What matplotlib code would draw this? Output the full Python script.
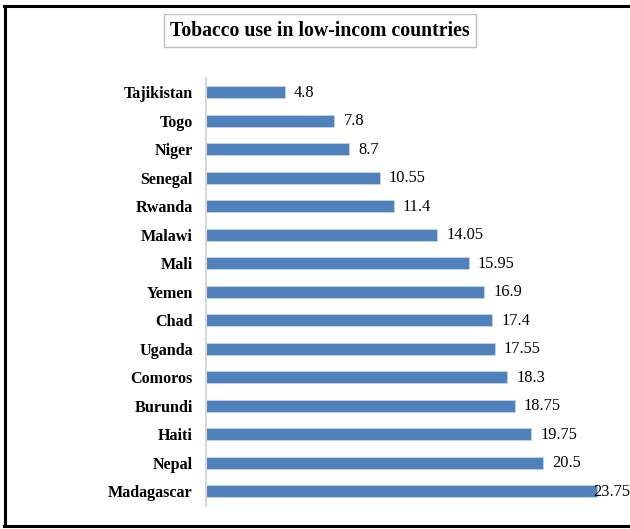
import matplotlib.pyplot as plt
from matplotlib.lines import Line2D

countries = ["Tajikistan", "Togo", "Niger", "Senegal", "Rwanda", "Malawi", "Mali",
             "Yemen", "Chad", "Uganda", "Comoros", "Burundi", "Haiti", "Nepal",
             "Madagascar"]
values = [4.8, 7.8, 8.7, 10.55, 11.4, 14.05, 15.95, 16.9, 17.4, 17.55, 18.3,
          18.75, 19.75, 20.5, 23.75]
value_labels = ["4.8", "7.8", "8.7", "10.55", "11.4", "14.05", "15.95", "16.9",
                "17.4", "17.55", "18.3", "18.75", "19.75", "20.5", "23.75"]

plt.rcParams["font.family"] = ["Liberation Serif", "DejaVu Serif"]

W, H = 630, 529
fig = plt.figure(figsize=(W / 100, H / 100), dpi=100)
ax = fig.add_axes([206 / W, 1 - 505.5 / H, (601 - 206) / W, (505.5 - 78) / H])

y = list(range(len(countries)))
ax.barh(y, values, height=0.43, color="#4f81bd", edgecolor="#c6d4ea", linewidth=0.6)
ax.set_xlim(0, 24)
ax.set_ylim(len(countries) - 0.5, -0.5)
ax.set_yticks(y)
ax.set_yticklabels(countries, fontsize=11.6, fontweight="bold")
ax.tick_params(axis="y", length=0, pad=9.5)
ax.set_xticks([])
for s in ["top", "right", "bottom"]:
    ax.spines[s].set_visible(False)
ax.spines["left"].set_color("#d9d9d9")
ax.spines["left"].set_linewidth(1.5)

# подписи значений
for yi, v, lab in zip(y, values, value_labels):
    dx = 6.5 if v < 23 else -2.5
    ax.annotate(lab, (v, yi), xytext=(dx, -0.5), textcoords="offset points",
                ha="left", va="center", fontsize=11.8, annotation_clip=False)

fig.text(320 / W, 1 - 30.5 / H, "Tobacco use in low-incom countries", ha="center",
         va="center", fontsize=14.2, fontweight="bold",
         bbox=dict(boxstyle="square,pad=0.32", facecolor="white",
                   edgecolor="#bfbfbf", linewidth=1))

# рамка
fig.add_artist(Line2D([4.5 / W, 4.5 / W], [1 - 5.5 / H, 1 - 526 / H], color="black", lw=2.2))
fig.add_artist(Line2D([3.5 / W, 1], [1 - 5.5 / H, 1 - 5.5 / H], color="black", lw=2.2))
fig.add_artist(Line2D([3.5 / W, 1], [1 - 526 / H, 1 - 526 / H], color="black", lw=2.2))

fig.savefig("out.png", dpi=100)
